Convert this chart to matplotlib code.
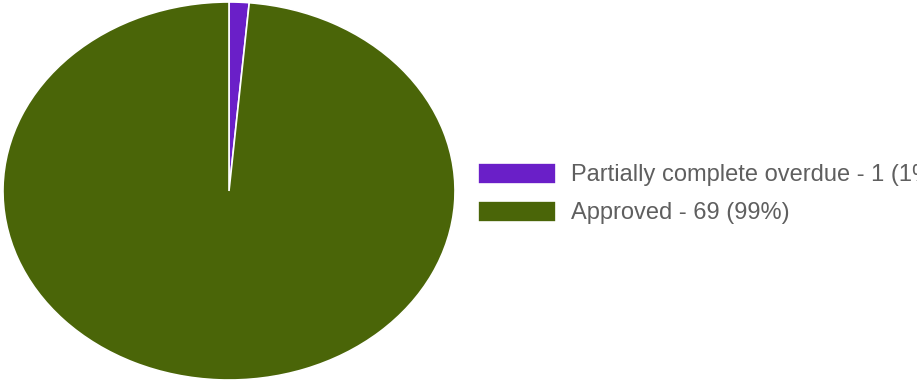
import matplotlib
matplotlib.use("Agg")
import matplotlib.pyplot as plt

# data
labels = ["Partially complete overdue", "Approved"]
counts = [1, 69]
colors = ["#6a1fc8", "#4a6508"]

total = sum(counts)
legend_labels = [f"{l} - {c} ({round(c / total * 100)}%)" for l, c in zip(labels, counts)]

plt.rcParams["font.family"] = ["Liberation Sans", "DejaVu Sans"]

fig = plt.figure(figsize=(9.17, 3.82), dpi=100)

# pie is stretched horizontally in the original, so no equal aspect
ax = fig.add_axes([3 / 917, 2 / 382, 452 / 917, 378 / 382])
wedges, _ = ax.pie(counts, colors=colors, startangle=90, counterclock=False,
                   wedgeprops=dict(edgecolor="white", linewidth=1.2))
ax.set_aspect("auto")
ax.set_xlim(-1, 1)
ax.set_ylim(-1, 1)

# legend runs past the right edge in the original, text gets cut off there too
fs = 17
px = fs * 100 / 72
fig.legend(wedges, legend_labels, loc="center left",
           bbox_to_anchor=(478 / 917, 1 - 193.5 / 382),
           frameon=False, fontsize=fs, labelcolor="#5f5f5f",
           borderpad=0, borderaxespad=0,
           handlelength=78 / px, handleheight=1.0, handletextpad=15 / px,
           labelspacing=0.62)

fig.savefig("out.png", dpi=100)
